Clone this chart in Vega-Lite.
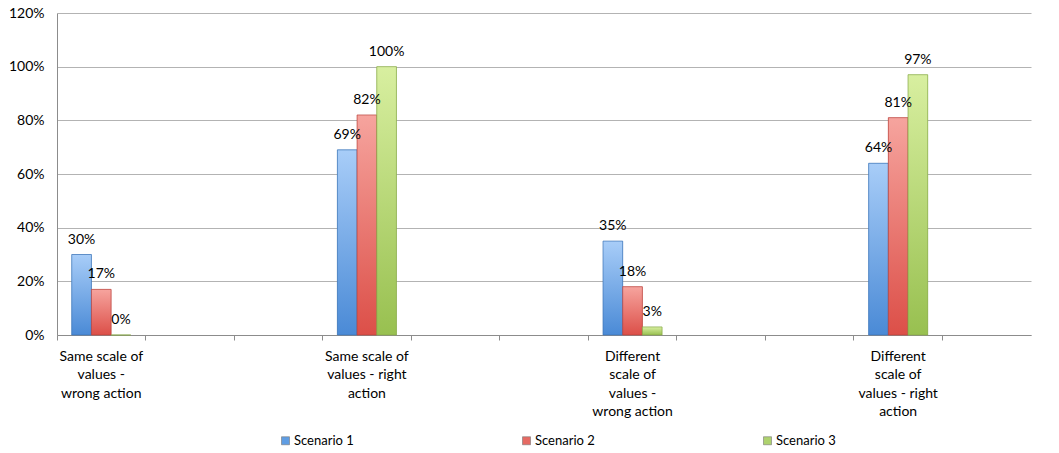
{
  "$schema": "https://vega.github.io/schema/vega-lite/v6.json",
  "width": 974,
  "height": 322,
  "autosize": {"type": "none"},
  "padding": {"left": 57, "top": 13, "right": 28, "bottom": 118},
  "background": "white",
  "config": {
    "font": "Lato",
    "view": {"stroke": null},
    "axis": {"labelColor": "#000000", "labelFontSize": 14, "labelFont": "Lato", "titleColor": "#000"}
  },
  "data": {
    "values": [
      {"category": "Same scale of values - wrong action", "scenario": "Scenario 1", "value": 0.30},
      {"category": "Same scale of values - wrong action", "scenario": "Scenario 2", "value": 0.17},
      {"category": "Same scale of values - wrong action", "scenario": "Scenario 3", "value": 0.00},
      {"category": "Same scale of values - right action", "scenario": "Scenario 1", "value": 0.69},
      {"category": "Same scale of values - right action", "scenario": "Scenario 2", "value": 0.82},
      {"category": "Same scale of values - right action", "scenario": "Scenario 3", "value": 1.00},
      {"category": "Different scale of values - wrong action", "scenario": "Scenario 1", "value": 0.35},
      {"category": "Different scale of values - wrong action", "scenario": "Scenario 2", "value": 0.18},
      {"category": "Different scale of values - wrong action", "scenario": "Scenario 3", "value": 0.03},
      {"category": "Different scale of values - right action", "scenario": "Scenario 1", "value": 0.64},
      {"category": "Different scale of values - right action", "scenario": "Scenario 2", "value": 0.81},
      {"category": "Different scale of values - right action", "scenario": "Scenario 3", "value": 0.97}
    ]
  },
  "encoding": {
    "x": {
      "field": "category",
      "type": "nominal",
      "sort": null,
      "title": null,
      "scale": {
        "domain": [
          "Same scale of values - wrong action", "gap1", "gap2",
          "Same scale of values - right action", "gap3", "gap4",
          "Different scale of values - wrong action", "gap5", "gap6",
          "Different scale of values - right action", "gap7"
        ],
        "paddingInner": 0.333,
        "paddingOuter": 0.1665
      },
      "axis": {
        "bandPosition": -0.2496,
        "labelAngle": 0,
        "labelAlign": "center",
        "labelBaseline": "top",
        "labelLineHeight": 18.5,
        "labelPadding": 9,
        "labelFontSize": 14,
        "labelLimit": 0,
        "labelOverlap": false,
        "tickSize": 5,
        "tickColor": "#8c8c8c",
        "domainColor": "#8c8c8c",
        "grid": false,
        "labelExpr": "datum.value == 'Same scale of values - wrong action' ? ['Same scale of','values -','wrong action'] : datum.value == 'Same scale of values - right action' ? ['Same scale of','values - right','action'] : datum.value == 'Different scale of values - wrong action' ? ['Different','scale of','values -','wrong action'] : datum.value == 'Different scale of values - right action' ? ['Different','scale of','values - right','action'] : ''"
      }
    },
    "xOffset": {
      "field": "scenario",
      "type": "nominal",
      "scale": {"domain": ["Scenario 1", "Scenario 2", "Scenario 3"]}
    },
    "y": {
      "field": "value",
      "type": "quantitative",
      "title": null,
      "scale": {"domain": [0, 1.2], "nice": false},
      "axis": {
        "values": [0, 0.2, 0.4, 0.6, 0.8, 1.0, 1.2],
        "format": ".0%",
        "ticks": false,
        "labelPadding": 13,
        "labelFontSize": 14,
        "domainColor": "#8c8c8c",
        "gridColor": "#b3b3b3",
        "gridWidth": 1
      }
    }
  },
  "layer": [
    {
      "mark": {"type": "bar"},
      "encoding": {
        "color": {
          "field": "scenario",
          "type": "nominal",
          "scale": {
            "domain": ["Scenario 1", "Scenario 2", "Scenario 3"],
            "range": ["#5f9de3", "#e66a63", "#aed26e"]
          },
          "legend": {
            "title": null,
            "orient": "none",
            "legendX": 222,
            "legendY": 421,
            "direction": "horizontal",
            "gridAlign": "all",
            "columnPadding": 166,
            "symbolType": "square",
            "symbolSize": 64,
            "symbolStrokeWidth": 0.6,
            "symbolStrokeColor": "#777777",
            "labelFontSize": 13,
            "labelColor": "#000000",
            "labelOffset": 2
          }
        }
      }
    },
    {
      "transform": [{"filter": "datum.scenario == 'Scenario 1'"}],
      "mark": {
        "type": "bar",
        "stroke": "#3d74b5",
        "strokeWidth": 0.7,
        "fill": {"gradient": "linear", "x1": 0, "y1": 0, "x2": 0, "y2": 1, "stops": [{"offset": 0, "color": "#a8cdf8"}, {"offset": 1, "color": "#4a8ad6"}]}
      }
    },
    {
      "transform": [{"filter": "datum.scenario == 'Scenario 2'"}],
      "mark": {
        "type": "bar",
        "stroke": "#b9423c",
        "strokeWidth": 0.7,
        "fill": {"gradient": "linear", "x1": 0, "y1": 0, "x2": 0, "y2": 1, "stops": [{"offset": 0, "color": "#f6a49e"}, {"offset": 1, "color": "#dc4f48"}]}
      }
    },
    {
      "transform": [{"filter": "datum.scenario == 'Scenario 3'"}],
      "mark": {
        "type": "bar",
        "stroke": "#86a847",
        "strokeWidth": 0.7,
        "fill": {"gradient": "linear", "x1": 0, "y1": 0, "x2": 0, "y2": 1, "stops": [{"offset": 0, "color": "#d8efa0"}, {"offset": 1, "color": "#98c050"}]}
      }
    },
    {
      "mark": {"type": "text", "dy": -15, "fontSize": 14, "color": "#000000", "font": "Lato"},
      "encoding": {
        "text": {"field": "value", "type": "quantitative", "format": ".0%"}
      }
    }
  ]
}
